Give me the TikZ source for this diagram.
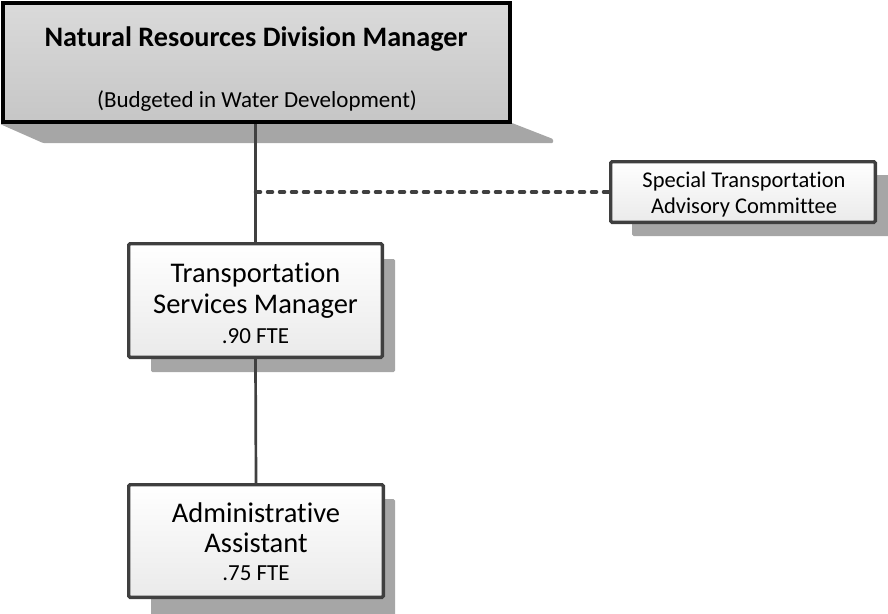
\documentclass[tikz,border=0pt]{standalone}
\usepackage{fontspec}
\setmainfont{Carlito}[Ligatures=NoCommon]
\definecolor{shadowgray}{HTML}{A6A6A6}
\definecolor{linegray}{HTML}{404040}
\definecolor{boxedge}{HTML}{3F3F3F}
\definecolor{headtop}{HTML}{DADADA}
\definecolor{headbot}{HTML}{C6C6C6}
\definecolor{cardbot}{HTML}{EAEAEA}
\begin{document}
\begin{tikzpicture}[x=1pt,y=-1pt,
  card/.style={draw=boxedge, line width=3.3pt, rounded corners=1.5pt, top color=white, bottom color=cardbot, inner sep=0pt},
  headbox/.style={draw=black, line width=4pt, top color=headtop, bottom color=headbot, inner sep=0pt},
  shadowbox/.style={fill=shadowgray, rounded corners=1.5pt},
  conn/.style={draw=linegray, line width=2.7pt},
  dashline/.style={draw=linegray, line width=3.5pt, line cap=round, dash pattern=on 5pt off 7pt},
  txt/.style={anchor=base, inner sep=0pt},
  big/.style={font=\fontsize{28.5pt}{32pt}\selectfont},
  small/.style={font=\fontsize{23pt}{26pt}\selectfont},
  comfont/.style={font=\fontsize{22.5pt}{26pt}\selectfont},
]
\useasboundingbox (0,0) rectangle (888,613);

% shadows
\fill[shadowgray, rounded corners=1pt] (0,124) -- (512,123) -- (553,139) -- (553,143) -- (43,143) -- cycle;
\fill[shadowbox] (632,175) rectangle (892,236);
\fill[shadowbox] (151,259) rectangle (395,372);
\fill[shadowbox] (151,499) rectangle (395,617);

% boxes
\node[headbox, minimum width=507pt, minimum height=119pt] (top) at (256.5,62.5) {};
\node[card, minimum width=264.7pt, minimum height=60.7pt] (com) at (743,192) {};
\node[card, minimum width=253.7pt, minimum height=113.7pt] (tsm) at (255.5,300.5) {};
\node[card, minimum width=254.7pt, minimum height=112.7pt] (adm) at (256,541) {};

% connectors
\draw[conn] (top.south -| tsm.north) -- (tsm.north);
\draw[conn] (tsm.south) -- (adm.north);
\coordinate (branch) at (tsm.north |- com.west);
\draw[dashline] (branch) -- (com.west);

% texts
\node[txt, font=\fontsize{28.2pt}{32pt}\selectfont\bfseries] (t1) at (256,46) {Natural Resources Division Manager};
\node[txt, font=\fontsize{23pt}{27pt}\selectfont] (t2) at (257,107.5) {(Budgeted in Water Development)};

\node[txt, comfont] (c1) at (744,187) {Special Transportation};
\node[txt, comfont] (c2) at (744,213) {Advisory Committee};

\node[txt, big] (s1) at (255.5,282) {Transportation};
\node[txt, big] (s2) at (255.5,313.3) {Services Manager};
\node[txt, small] (s3) at (255.5,343) {.90 FTE};

\node[txt, big] (a1) at (256,522) {Administrative};
\node[txt, big] (a2) at (256,552) {Assistant};
\node[txt, small] (a3) at (256,580) {.75 FTE};
\end{tikzpicture}
\end{document}
